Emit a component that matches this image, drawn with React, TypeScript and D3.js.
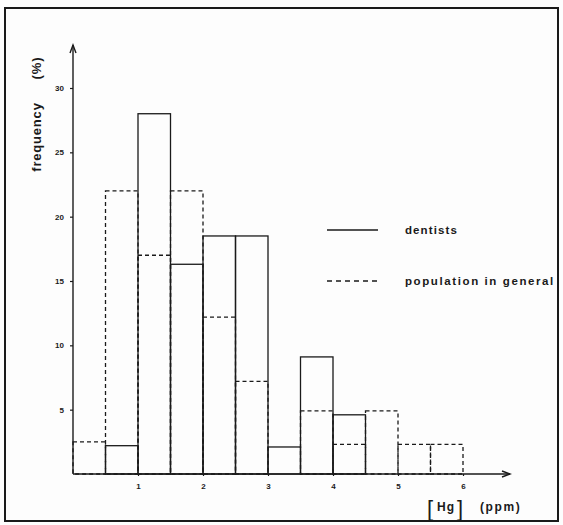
import React, { useEffect, useRef } from "react";
import * as d3 from "d3";

const binStarts = [0, 0.5, 1, 1.5, 2, 2.5, 3, 3.5, 4, 4.5, 5, 5.5];
const dentists = [0, 2.2, 28, 16.3, 18.5, 18.5, 2.1, 9.1, 4.6, 0, 0, 0];
const population = [2.5, 22, 17, 22, 12.2, 7.2, 0, 4.9, 2.3, 4.9, 2.3, 2.3];
const yTicks = [5, 10, 15, 20, 25, 30];
const xTicks = [1, 2, 3, 4, 5, 6];
const binWidth = 0.5;

export default function App() {
  const ref = useRef<SVGSVGElement>(null);
  useEffect(() => {
    const svg = d3.select(ref.current);
    svg.selectAll("*").remove();
    const W = 563, H = 525;
    const x = d3.scaleLinear().domain([0, 6]).range([73, 463]);
    const y = d3.scaleLinear().domain([0, 30]).range([474, 88]);
    const font = "'Liberation Sans', Arial, sans-serif";
    const ink = "#1a1a1a";

    svg.append("rect").attr("x", 0).attr("y", 0).attr("width", W).attr("height", H).attr("fill", "#fdfdfd");
    svg.append("rect").attr("x", 5).attr("y", 8).attr("width", 553).attr("height", 513)
      .attr("fill", "none").attr("stroke", ink).attr("stroke-width", 2);

    const g = svg.append("g");

    // population (dashed)
    g.selectAll("rect.pop")
      .data(binStarts.map((b, i) => ({ b, v: population[i] })).filter(d => d.v > 0))
      .enter().append("rect")
      .attr("x", d => x(d.b)).attr("width", d => x(d.b + binWidth) - x(d.b))
      .attr("y", d => y(d.v)).attr("height", d => y(0) - y(d.v))
      .attr("fill", "none").attr("stroke", ink).attr("stroke-width", 1.3)
      .attr("stroke-dasharray", "4,3");

    // dentists (solid)
    g.selectAll("rect.dent")
      .data(binStarts.map((b, i) => ({ b, v: dentists[i] })).filter(d => d.v > 0))
      .enter().append("rect")
      .attr("x", d => x(d.b)).attr("width", d => x(d.b + binWidth) - x(d.b))
      .attr("y", d => y(d.v)).attr("height", d => y(0) - y(d.v))
      .attr("fill", "none").attr("stroke", ink).attr("stroke-width", 1.3);

    // axes lines with arrows
    const ax = svg.append("g").attr("stroke", ink).attr("stroke-width", 1.4).attr("fill", "none");
    ax.append("line").attr("x1", x(0)).attr("y1", y(0)).attr("x2", x(0)).attr("y2", 45);
    ax.append("path").attr("d", `M${x(0) - 3},53 L${x(0)},45 L${x(0) + 3},53`);
    ax.append("line").attr("x1", x(0)).attr("y1", y(0)).attr("x2", 510).attr("y2", y(0));
    ax.append("path").attr("d", `M502,${y(0) - 3} L510,${y(0)} L502,${y(0) + 3}`);

    const yAxis = svg.append("g").attr("transform", `translate(${x(0)},0)`)
      .call(d3.axisLeft(y).tickValues(yTicks).tickSize(3).tickPadding(6));
    yAxis.select(".domain").remove();
    yAxis.selectAll("line").attr("stroke", ink).attr("stroke-width", 1.2);
    yAxis.selectAll("text").attr("font-family", font).attr("font-size", 8).attr("font-weight", "bold").attr("fill", ink);

    const xAxis = svg.append("g").attr("transform", `translate(0,${y(0)})`)
      .call(d3.axisBottom(x).tickValues(xTicks).tickSize(2).tickPadding(7).tickFormat(d3.format("d")));
    xAxis.select(".domain").remove();
    xAxis.selectAll("line").attr("stroke", ink).attr("stroke-width", 1.2);
    xAxis.selectAll("text").attr("font-family", font).attr("font-size", 8).attr("font-weight", "bold").attr("fill", ink);

    // y label
    svg.append("text").attr("transform", "translate(41,137) rotate(-90)")
      .attr("text-anchor", "middle").attr("font-family", font).attr("font-size", 13)
      .attr("font-weight", "bold").attr("fill", ink).attr("letter-spacing", 0.8)
      .text("frequency");
    svg.append("text").attr("transform", "translate(41,68) rotate(-90)")
      .attr("text-anchor", "middle").attr("font-family", font).attr("font-size", 13)
      .attr("font-weight", "bold").attr("fill", ink).attr("letter-spacing", 1)
      .text("(%)");

    // x label
    svg.append("text").attr("x", 427).attr("y", 516).attr("font-family", font)
      .attr("font-size", 22).attr("fill", ink).text("[");
    svg.append("text").attr("x", 437).attr("y", 511).attr("font-family", font)
      .attr("font-size", 12).attr("font-weight", "bold").attr("fill", ink).attr("letter-spacing", 1).text("Hg");
    svg.append("text").attr("x", 457).attr("y", 516).attr("font-family", font)
      .attr("font-size", 22).attr("fill", ink).text("]");
    svg.append("text").attr("x", 480).attr("y", 511).attr("font-family", font)
      .attr("font-size", 12).attr("font-weight", "bold").attr("fill", ink).attr("letter-spacing", 1.6).text("(ppm)");

    // legend
    const leg = [
      { label: "dentists", dash: null, yy: 230, ls: 1.1 },
      { label: "population in general", dash: "5,4", yy: 281, ls: 1.6 },
    ];
    leg.forEach(l => {
      const ln = svg.append("line").attr("x1", 327).attr("x2", 378).attr("y1", l.yy).attr("y2", l.yy)
        .attr("stroke", ink).attr("stroke-width", 1.4);
      if (l.dash) ln.attr("stroke-dasharray", l.dash);
      svg.append("text").attr("x", 405).attr("y", l.yy + 4).attr("font-family", font)
        .attr("font-size", 11.5).attr("font-weight", "bold").attr("fill", ink)
        .attr("letter-spacing", l.ls).text(l.label);
    });
  }, []);
  return (
    <svg ref={ref} width={563} height={525}
      style={{ position: "absolute", left: 0, top: 0, display: "block" }} />
  );
}
